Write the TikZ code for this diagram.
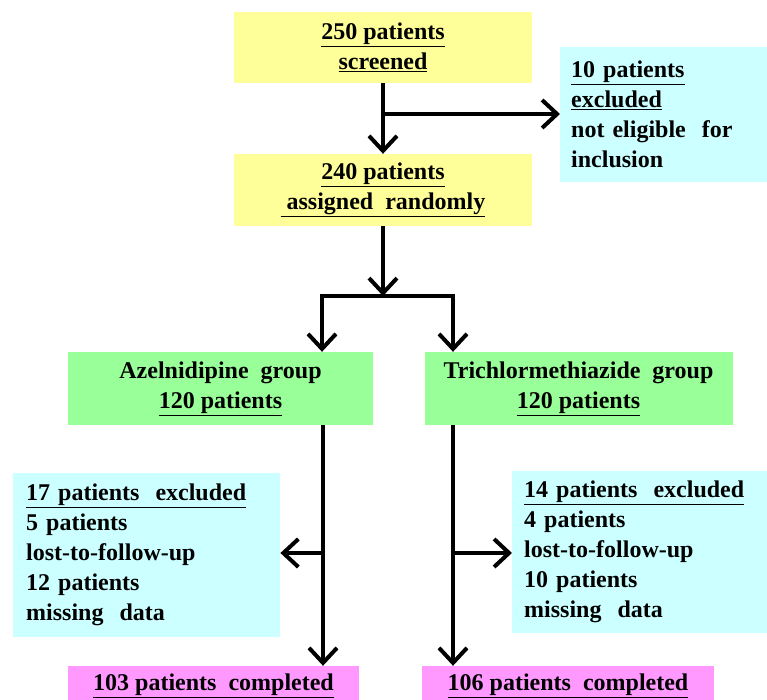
\documentclass[tikz,border=0pt]{standalone}
\usepackage{fontspec}
\setmainfont{Liberation Serif}
\usetikzlibrary{arrows.meta}
\definecolor{ylw}{HTML}{FFFF99}
\definecolor{cyn}{HTML}{CCFFFF}
\definecolor{grn}{HTML}{99FF99}
\definecolor{pnk}{HTML}{FF99FF}
\begin{document}
\begin{tikzpicture}[x=1pt,y=-1pt,
  every node/.style={font=\fontsize{24}{30}\selectfont\bfseries},
  boxc/.style={inner sep=0pt, align=center},
  boxl/.style={inner ysep=0pt, align=left},
  ln/.style={line width=4pt},
  arr/.style={line width=4pt, -{Straight Barb[length=15pt,width=28pt,line width=4pt]}}]
\useasboundingbox (0,0) rectangle (767,700);
% top
\node[boxc, fill=ylw, minimum width=298pt, minimum height=71pt] (y1) at (383,47.5) {\underline{250 patients}\\\underline{screened}};
\node[boxc, fill=ylw, minimum width=298pt, minimum height=72pt] (y2) at (383,190) {\underline{240 patients}\\\underline{ assigned\ \ randomly}};
\node[boxl, fill=cyn, anchor=north west, inner xsep=11pt, text width=190pt, minimum height=135pt] (ex1) at (560,47) {\underline{10 patients}\\\underline{excluded}\\not eligible\ \ for\\inclusion};
% groups
\node[boxc, fill=grn, minimum width=305pt, minimum height=73pt] (gA) at (220.5,388.5) {Azelnidipine\ \ group\\\underline{120 patients}};
\node[boxc, fill=grn, minimum width=308pt, minimum height=73pt] (gT) at (578.5,388.5) {Trichlormethiazide\ \ group\\\underline{120 patients}};
% exclusions
\node[boxl, fill=cyn, anchor=north west, inner xsep=13pt, text width=241pt, minimum height=164pt] (exA) at (13,473) {\underline{17 patients\ \ excluded}\\5 patients\\lost-to-follow-up\\12 patients\\missing\ \ data};
\node[boxl, fill=cyn, anchor=north west, inner xsep=12pt, text width=240pt, minimum height=162pt] (exT) at (512,471) {\underline{14 patients\ \ excluded}\\4 patients\\lost-to-follow-up\\10 patients\\missing\ \ data};
% completed
\node[boxc, fill=pnk, minimum width=291pt, minimum height=40pt] (pA) at (213.5,686) {\underline{103 patients\ \ completed}};
\node[boxc, fill=pnk, minimum width=292pt, minimum height=40pt] (pT) at (568,686) {\underline{106 patients\ \ completed}};
% connectors
\draw[arr] (y1) -- (y2);
\coordinate (b1) at (383,114);
\draw[arr] (b1) -- (b1 -| ex1.west);
\coordinate (sm) at (383,296);
\coordinate (sL) at (322,296);
\coordinate (sR) at (453,296);
\draw[arr] (y2.south) -- (sm);
\draw[ln, line cap=rect] (sL) -- (sR);
\draw[arr] (sL) -- (sL |- gA.north);
\draw[arr] (sR) -- (sR |- gT.north);
\coordinate (vA) at (323,553);
\coordinate (vT) at (453,553);
\draw[arr] (vA |- gA.south) -- (vA |- pA.north);
\draw[arr] (vT |- gT.south) -- (vT |- pT.north);
\draw[arr] (vA) -- (vA -| exA.east);
\draw[arr] (vT) -- (vT -| exT.west);
\end{tikzpicture}
\end{document}
